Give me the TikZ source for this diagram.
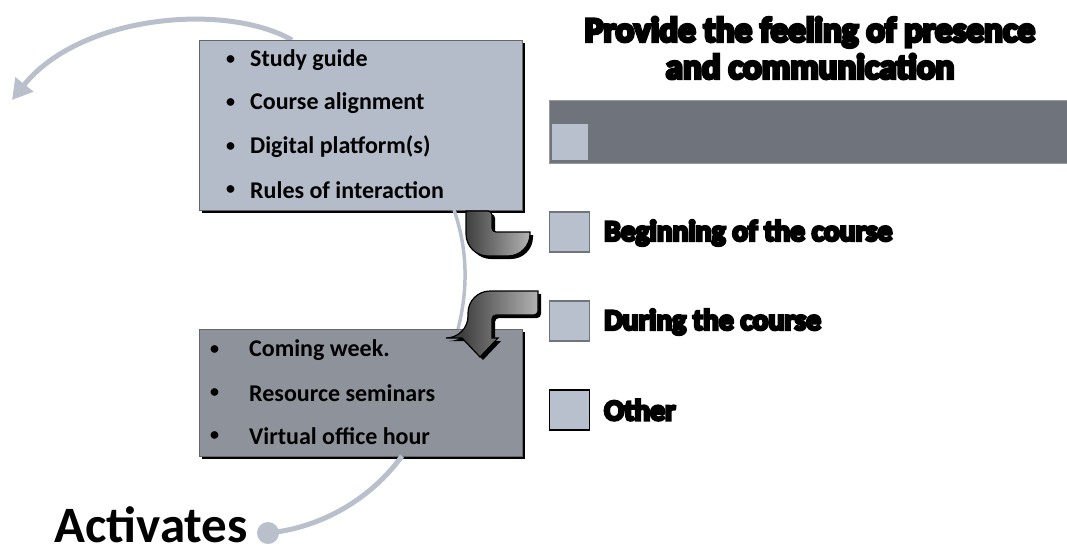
\documentclass[tikz,border=0pt]{standalone}
\usepackage{fontspec}
\setmainfont{Carlito}
\newfontfamily\heavyfont{Carlito}[FakeBold=9]
\usetikzlibrary{arrows.meta,shadows}
\definecolor{boxA}{HTML}{B4BBC9}
\definecolor{boxB}{HTML}{8E929B}
\definecolor{barC}{HTML}{6F737B}
\definecolor{sqC}{HTML}{B8BFCD}
\definecolor{sqE}{HTML}{70747B}
\definecolor{curveC}{HTML}{B9C0CC}
\tikzset{
  x=1pt,y=-1pt,
  panel/.style={draw=black!60,line width=0.8pt,drop shadow={shadow xshift=3pt,shadow yshift=-3pt,fill=black,opacity=1}},
  itemtxt/.style={anchor=west,font=\fontsize{24}{28}\selectfont\bfseries,inner sep=0pt},
  bul/.style={anchor=west,font=\fontsize{18}{20}\selectfont\bfseries,inner sep=0pt},
  heavy/.style={font=\heavyfont\fontsize{29.5}{33}\selectfont\bfseries,inner sep=0pt},
  sq/.style={draw=sqE,line width=1.6pt,fill=sqC},
  flow/.style={draw=curveC,line width=5pt},
  elbow/.style={left color=black!75,right color=black!30,draw=black,line width=1.2pt,
     drop shadow={shadow xshift=3pt,shadow yshift=-3pt,fill=black,opacity=1}},
}
\begin{document}
\begin{tikzpicture}
\useasboundingbox (0,0) rectangle (1067,554);
% top curved arrow
\coordinate (tip) at (12,100);
\coordinate (arcstart) at (292,40);
\draw[flow,-{Triangle[width=22pt,length=20pt]}] (arcstart) .. controls (225,2) and (80,15) .. (tip);
% boxes
\node[panel,fill=boxA,minimum width=323pt,minimum height=170pt,inner sep=0pt] (topbox) at (360.5,125) {};
\node[panel,fill=boxB,minimum width=323pt,minimum height=127pt,inner sep=0pt] (botbox) at (360.5,392.5) {};
% connecting curve between boxes
\coordinate (c1) at (454,210);
\coordinate (c2) at (458,329);
\draw[flow,line width=3.5pt] (c1) .. controls (468,250) and (468,290) .. (c2);
% bottom curve to dot
\node[circle,fill=curveC,minimum size=22pt,inner sep=0pt] (dot) at (268,533) {};
\coordinate (c3) at (402,456);
\draw[flow] (c3) .. controls (370,500) and (320,528) .. (dot.center);
\node[anchor=base east,font=\fontsize{51}{54}\selectfont\bfseries,inner sep=0pt] (act) at (248,542) {Activates};
% top box items
\foreach \t/\y [count=\i] in {Study guide/60,Course alignment/103,Digital platform(s)/147,Rules of interaction/190}{
  \node[bul] (tbb\i) at (226,\y) {\textbullet};
  \node[itemtxt] (tb\i) at (250,\y) {\t};
}
% bottom box items
\foreach \t/\y [count=\i] in {Coming week./350,Resource seminars/393,Virtual office hour/436}{
  \node[bul] (bb\i) at (210,\y) {\textbullet};
  \node[itemtxt] (bt\i) at (249,\y) {\t};
}
% elbow 1
\path[elbow] (466,211) [rounded corners=22pt] -- (466,256) -- (530,256) [sharp corners] -- (530,232) [rounded corners=4pt] -- (492,232) -- (492,211) [sharp corners] -- cycle;
% elbow 2 with arrow head
\path[elbow] (538,291) [rounded corners=22pt] -- (468,291) -- (468,338) [sharp corners] -- (462,338) -- (480,357) -- (498,338) -- (492,338) [rounded corners=4pt] -- (492,315) -- (538,315) [sharp corners] -- cycle;
% right side
\node[heavy,align=center,font=\heavyfont\fontsize{35}{37}\selectfont\bfseries] (title) at (810,48) {Provide the feeling of presence\\and communication};
\node[fill=barC,draw=black!40,line width=0.6pt,minimum width=520pt,minimum height=63pt,inner sep=0pt,anchor=north west] (bar) at (549,100) {};
\node[fill=sqC,minimum size=36pt,inner sep=0pt] (sq0) at (570,142) {};
\node[sq,minimum size=40pt,inner sep=0pt] (sq1) at (569.5,232) {};
\node[sq,minimum size=40pt,inner sep=0pt] (sq2) at (569.5,321) {};
\node[sq,draw=black,minimum size=40pt,inner sep=0pt] (sq3) at (569.5,410) {};
\node[heavy,anchor=west] (l1) at (604,233) {Beginning of the course};
\node[heavy,anchor=west] (l2) at (604,322) {During the course};
\node[heavy,anchor=west] (l3) at (604,410) {Other};
\end{tikzpicture}
\end{document}
